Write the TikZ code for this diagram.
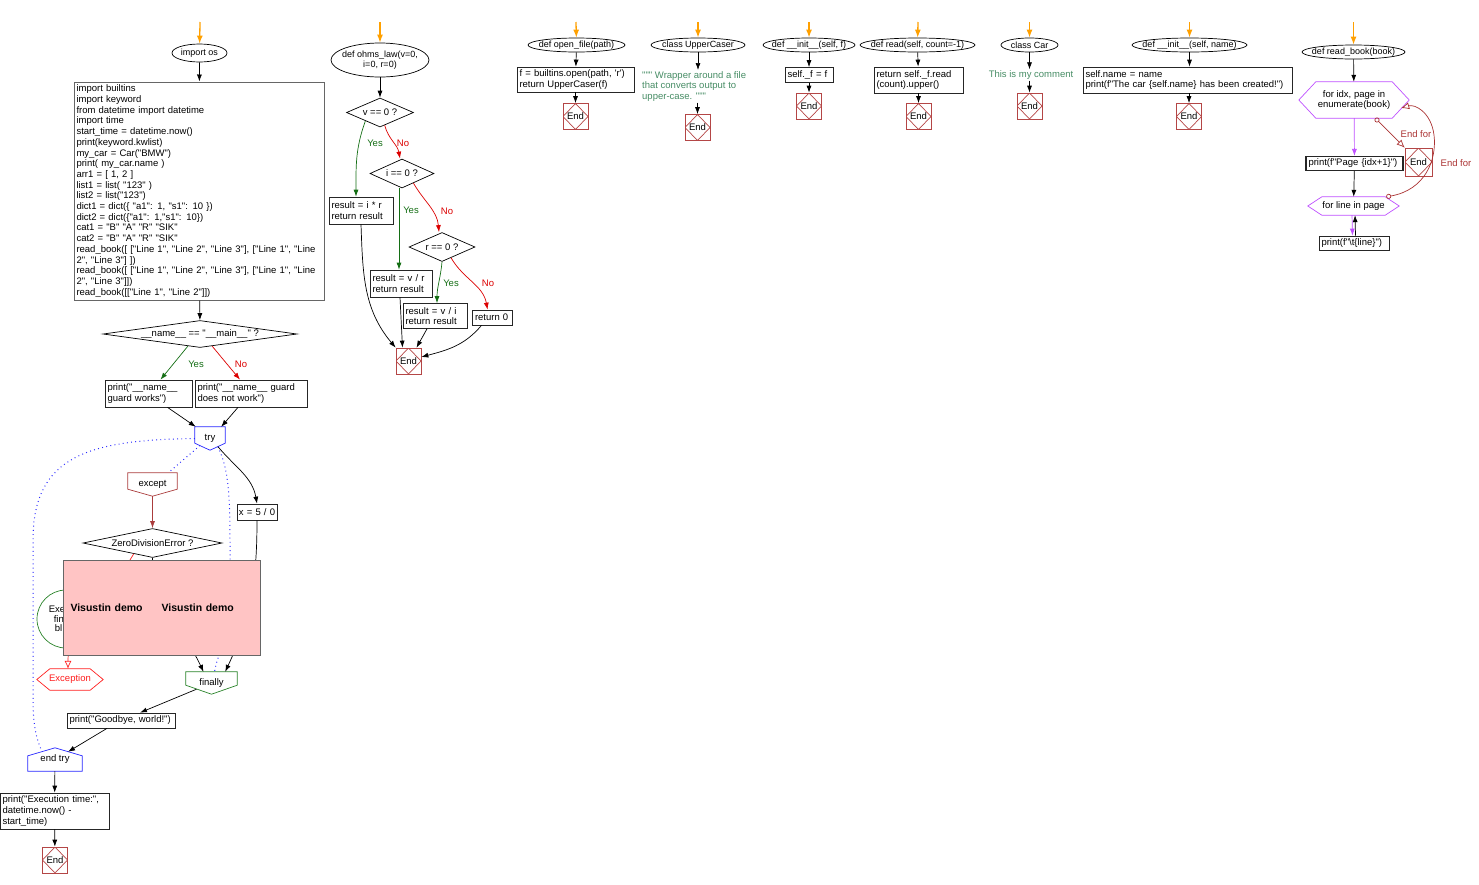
\documentclass[tikz,border=0pt]{standalone}
\usepackage{fontspec}
\newfontfamily\flowfont{Liberation Sans}
\usetikzlibrary{arrows.meta,shapes.geometric}
\definecolor{launchorange}{RGB}{255,160,0}
\definecolor{endred}{RGB}{180,70,70}
\definecolor{yesgreen}{RGB}{20,110,20}
\definecolor{nored}{RGB}{220,0,0}
\definecolor{notegreen}{RGB}{70,140,100}
\definecolor{tryblue}{RGB}{40,40,255}
\definecolor{looppurple}{RGB}{190,80,255}
\definecolor{demopink}{RGB}{255,196,196}
\definecolor{excred}{RGB}{255,30,30}
\definecolor{finalgreen}{RGB}{40,130,40}
\definecolor{exceptred}{RGB}{170,60,60}
\definecolor{exitred}{RGB}{170,50,50}
\newcommand{\pentdown}[3]{\draw[#2,line width=0.7pt] (#1.north west) -- (#1.north east)
  -- ([yshift=#3]#1.south east) -- (#1.south) -- ([yshift=#3]#1.south west) -- cycle;}
\newcommand{\pentup}[3]{\draw[#2,line width=0.7pt] (#1.south west) -- (#1.south east)
  -- ([yshift=-#3]#1.north east) -- (#1.north) -- ([yshift=-#3]#1.north west) -- cycle;}
\newcommand{\hexa}[3]{\draw[#2,line width=0.7pt] (#1.west) -- ([xshift=#3]#1.north west)
  -- ([xshift=-#3]#1.north east) -- (#1.east) -- ([xshift=-#3]#1.south east)
  -- ([xshift=#3]#1.south west) -- cycle;}

\begin{document}
\begin{tikzpicture}[
  x=1pt,y=-1pt,
  every node/.style={font=\flowfont\fontsize{9.5}{10.7}\selectfont,inner sep=0pt},
  flow/.style={draw=black,line width=0.7pt,-{Latex[length=7pt,width=5pt]}},
  launch/.style={draw=launchorange,line width=1.3pt,-{Latex[length=8pt,width=6pt]}},
  yesflow/.style={flow,draw=yesgreen},
  noflow/.style={flow,draw=nored},
  errflow/.style={flow,draw=exceptred},
  loopflow/.style={flow,draw=looppurple},
  tryflow/.style={draw=tryblue,line width=1pt,dash pattern=on 0.9pt off 3.3pt},
  exitflow/.style={draw=exitred,line width=0.7pt,
    {Circle[open,length=5pt,width=5pt]}-{Latex[open,length=8pt,width=7pt]}},
  stmt/.style={draw=black!85,fill=white,line width=0.7pt,align=left,
    inner xsep=2.5pt,inner ysep=1pt},
  codeblock/.style={stmt,draw=black!60,line width=1pt},
  entry/.style={ellipse,draw,fill=white,line width=0.7pt,align=center,
    inner xsep=-40pt,inner ysep=-8pt,font=\flowfont\fontsize{9}{10.5}\selectfont},
  decision/.style={diamond,draw,fill=white,line width=0.7pt,aspect=#1},
  halt/.style={draw=endred,line width=0.7pt,minimum width=25pt,minimum height=26pt,
    path picture={\draw[endred] (path picture bounding box.north)
      -- (path picture bounding box.east) -- (path picture bounding box.south)
      -- (path picture bounding box.west) -- cycle;}},
  slot/.style={rectangle},
  note/.style={text=notegreen,align=left,inner sep=1pt},
  yeslabel/.style={text=yesgreen},
  nolabel/.style={text=nored},
  exitlabel/.style={text=exitred}
]
\useasboundingbox (0,0) rectangle (1479,884);

\coordinate (s1) at (200,22);
\node[entry,minimum width=55pt,minimum height=18pt] (os) at (199.5,53) {import os};
\node[codeblock,text width=245pt,minimum height=218pt] (code) at (199,191) {import builtins\\
import keyword\\
from datetime import datetime\\
import time\\
start\_time = datetime.now()\\
print(keyword.kwlist)\\
my\_car = Car("BMW")\\
print( my\_car.name )\\
arr1 = [ 1, 2 ]\\
list1 = list( "123" )\\
list2 = list("123")\\
dict1 = dict(\{ "a1": 1, "s1": 10 \})\\
dict2 = dict(\{"a1": 1,"s1": 10\})\\
cat1 = "B" "A" "R" "SIK"\\
cat2 = "B" "A" "R" "SIK"\\
read\_book([ ["Line 1", "Line 2", "Line 3"], ["Line 1", "Line\\
2", "Line 3"] ])\\
read\_book([ ["Line 1", "Line 2", "Line 3"], ["Line 1", "Line\\
2", "Line 3"]])\\
read\_book([["Line 1", "Line 2"]])};
\node[decision=7,minimum width=194pt,minimum height=27pt] (namedec) at (200,334) {\_\_name\_\_ == "\_\_main\_\_" ?};
\node[stmt,text width=82pt,minimum height=27pt] (guard1) at (148.5,393.5) {print("\_\_name\_\_\\guard works")};
\node[stmt,text width=107pt,minimum height=27pt] (guard2) at (251,393.5) {print("\_\_name\_\_ guard\\does not work")};
\node[yeslabel] (yes1) at (196,364) {Yes};
\node[nolabel] (no1) at (241,364) {No};
\node[slot,minimum width=30pt,minimum height=23pt] (try) at (210,438.5) {try};
\node[slot,minimum width=49pt,minimum height=23pt] (except) at (152.5,484.5) {except};
\node[decision=4.9,minimum width=139pt,minimum height=29pt] (zde) at (152.5,543) {ZeroDivisionError ?};
\node[stmt,text width=38pt,inner xsep=1pt,align=center,minimum height=16pt] (xdiv) at (257,512) {x = 5 / 0};
\node[draw=finalgreen,fill=white,circle,line width=0.7pt,minimum size=58pt,align=center,
  font=\flowfont\fontsize{9.5}{9.6}\selectfont] (fincirc) at (66,619)
  {Exe\phantom{cute}\\fin\phantom{ally}\\bl\phantom{ock}};
\node[slot,minimum width=66pt,minimum height=21pt,text=excred] (exc) at (70,679.5) {Exception};
\node[slot,minimum width=51pt,minimum height=22pt] (finally) at (211.5,683) {finally};
\node[stmt,text width=103pt,minimum height=15pt] (goodbye) at (121,720.5) {print("Goodbye, world!")};
\node[slot,minimum width=54pt,minimum height=23pt] (endtry) at (55,759.5) {end try};
\node[stmt,text width=104pt,minimum height=36pt] (exectime) at (54.5,811) {print("Execution time:",\\datetime.now() -\\start\_time)};
\node[halt] (end1) at (55,860) {End};
\pentdown{try}{tryblue}{7pt}
\pentdown{except}{exceptred}{7pt}
\pentdown{finally}{finalgreen}{9pt}
\pentup{endtry}{tryblue}{8pt}
\hexa{exc}{excred}{13pt}

\draw[launch] (s1) -- (os);
\draw[flow] (os) -- (code);
\draw[flow] (code) -- (namedec);
\draw[yesflow] (namedec.-135) -- ([xshift=12pt]guard1.north);
\draw[noflow] (namedec.-45) -- ([xshift=-11pt]guard2.north);
\draw[flow] ([xshift=19pt]guard1.south) -- ([xshift=1pt]try.north west);
\draw[flow] ([xshift=-13pt]guard2.south) -- ([xshift=-4pt]try.north east);
\draw[tryflow] (try.west) .. controls (90,440) and (33,455) .. (33,540) -- (33,700)
  .. controls (33,730) and (38,742) .. ([xshift=14pt,yshift=-3.5pt]endtry.north west);
\draw[tryflow] ([xshift=-10pt,yshift=4.7pt]try.south) -- ([xshift=-9pt]except.north east);
\draw[tryflow] ([xshift=8pt,yshift=3.5pt]try.south) .. controls (226,465) and (230,480) .. (230,540)
  -- (230,600) .. controls (230,640) and (218,650) .. ([xshift=3pt]finally.north);
\draw[flow] ([xshift=8pt,yshift=3.5pt]try.south) to[out=-50,in=100] (xdiv.north);
\draw[errflow] (except) -- (zde);
\draw[errflow,-{Latex[open,length=8pt,width=7pt]},draw=excred] (zde.-150) to[out=-120,in=90] ([xshift=-2pt]exc.north);
\draw[flow] (zde.south) to[out=-90,in=115] ([xshift=-8pt]finally.north);
\draw[flow] (xdiv.south) to[out=-90,in=65] ([xshift=-12pt]finally.north east);
\node[draw=black!60,fill=demopink,line width=1pt,text width=182pt,inner xsep=7.5pt,
  minimum height=95pt,align=left,font=\flowfont\bfseries\fontsize{10.5}{12}\selectfont]
  (demo) at (161.5,607.5) {Visustin demo\hspace{19pt}Visustin demo};
\draw[flow] ([xshift=-15pt,yshift=5pt]finally.south) -- ([xshift=19pt]goodbye.north);
\draw[flow] ([xshift=-14pt]goodbye.south) -- ([xshift=13pt,yshift=-4pt]endtry.north);
\draw[flow] (endtry) -- (exectime);
\draw[flow] (exectime) -- (end1);

\coordinate (s2) at (380,22);
\node[entry,minimum width=98pt,minimum height=34pt] (ohms) at (380,60) {def ohms\_law(v=0,\\i=0, r=0)};
\node[decision=2.3,minimum width=67pt,minimum height=29pt] (vdec) at (380,112.5) {v == 0 ?};
\node[decision=2.3,minimum width=64pt,minimum height=29pt] (idec) at (402,173.5) {i == 0 ?};
\node[decision=2.3,minimum width=66pt,minimum height=29pt] (rdec) at (442,247) {r == 0 ?};
\node[stmt,text width=59pt,minimum height=27pt] (res1) at (361,210.5) {result = i * r\\return result};
\node[stmt,text width=57pt,minimum height=27pt] (res2) at (401,283.5) {result = v / r\\return result};
\node[stmt,text width=59pt,minimum height=25pt] (res3) at (435,316) {result = v / i\\return result};
\node[stmt,text width=35pt,minimum height=15pt] (ret0) at (492.5,317.5) {return 0};
\node[halt] (end2) at (408.5,361) {End};
\node[yeslabel] (yes2) at (375,143) {Yes};
\node[nolabel] (no2) at (403,143) {No};
\node[yeslabel] (yes3) at (411,210) {Yes};
\node[nolabel] (no3) at (447,211) {No};
\node[yeslabel] (yes4) at (451,283) {Yes};
\node[nolabel] (no4) at (488,283) {No};
\draw[launch] (s2) -- (ohms);
\draw[flow] (ohms) -- (vdec);
\draw[yesflow] (vdec.-150) to[out=-110,in=90] ([xshift=-5pt]res1.north);
\draw[noflow] (vdec.-70) to[out=-75,in=100] ([xshift=-2pt]idec.north);
\draw[yesflow] ([xshift=-3pt]idec.south) -- ([xshift=-2pt]res2.north);
\draw[noflow] (idec.-40) to[out=-60,in=95] ([xshift=-3pt]rdec.north);
\draw[yesflow] (rdec.south) to[out=-95,in=90] ([xshift=2pt]res3.north);
\draw[noflow] (rdec.-50) to[out=-60,in=100] ([xshift=-5pt]ret0.north);
\draw[flow] (res1.south) to[out=-88,in=130] (end2.north west);
\draw[flow] ([xshift=-1pt]res2.south) -- ([xshift=-6pt]end2.north);
\draw[flow] ([xshift=-8pt]res3.south) -- ([xshift=8pt]end2.north);
\draw[flow] ([xshift=-11pt]ret0.south) to[out=-130,in=15] ([yshift=4pt]end2.east);

\coordinate (s3) at (576,22);
\node[entry,minimum width=97pt,minimum height=14pt] (openf) at (576.5,45) {def open\_file(path)};
\node[stmt,text width=112pt,minimum height=25pt] (openbox) at (575.5,79.5) {f = builtins.open(path, 'r')\\return UpperCaser(f)};
\node[halt] (end3) at (575.5,116.5) {End};
\draw[launch] (s3) -- (openf);
\draw[flow] (openf) -- (openbox);
\draw[flow] (openbox) -- (end3);

\coordinate (s4) at (698,22);
\node[entry,minimum width=94pt,minimum height=14pt] (upper) at (698,45) {class UpperCaser};
\node[note,anchor=north west] (upnote) at (641,70) {""" Wrapper around a file\\that converts output to\\upper-case. """};
\node[halt] (end4) at (697.5,127.5) {End};
\draw[launch] (s4) -- (upper);
\draw[flow] (upper) -- (upper |- upnote.north);
\draw[flow] (upnote.south -| end4) -- (end4);

\coordinate (s5) at (809,22);
\node[entry,minimum width=92pt,minimum height=14pt] (initf) at (809,45) {def \_\_init\_\_(self, f)};
\node[stmt,text width=43pt,minimum height=15pt] (selff) at (809,75) {self.\_f = f};
\node[halt] (end5) at (809,106) {End};
\draw[launch] (s5) -- (initf);
\draw[flow] (initf) -- (selff);
\draw[flow] (selff) -- (end5);

\coordinate (s6) at (918,22);
\node[entry,minimum width=115pt,minimum height=14pt] (readf) at (917.5,45) {def read(self, count=-1)};
\node[stmt,text width=84pt,minimum height=26pt] (readbox) at (918.5,80) {return self.\_f.read\\(count).upper()};
\node[halt] (end6) at (918.5,116.5) {End};
\draw[launch] (s6) -- (readf);
\draw[flow] (readf) -- (readbox);
\draw[flow] (readbox) -- (end6);

\coordinate (s7) at (1029.5,22);
\node[entry,minimum width=57pt,minimum height=14pt] (car) at (1029.5,45) {class Car};
\node[note] (carnote) at (1031,75) {This is my comment};
\node[halt] (end7) at (1029.5,106) {End};
\draw[launch] (s7) -- (car);
\draw[flow] (car) -- (car |- carnote.north);
\draw[flow] (carnote.south -| end7) -- (end7);

\coordinate (s8) at (1189.5,22);
\node[entry,minimum width=115pt,minimum height=14pt] (initn) at (1189.5,45) {def \_\_init\_\_(self, name)};
\node[stmt,text width=204pt,minimum height=26pt] (namebox) at (1187.5,80) {self.name = name\\print(f"The car \{self.name\} has been created!")};
\node[halt] (end8) at (1189,116.5) {End};
\draw[launch] (s8) -- (initn);
\draw[flow] (initn) -- (initn |- namebox.north);
\draw[flow] (namebox.south -| end8) -- (end8);

\coordinate (s9) at (1353.5,22);
\node[entry,minimum width=103pt,minimum height=14pt] (rbook) at (1353.5,52) {def read\_book(book)};
\node[slot,minimum width=110pt,minimum height=36pt,align=center] (forpage) at (1354,100) {for idx, page in\\enumerate(book)};
\node[stmt,text width=92pt,minimum height=14pt,line width=1.1pt] (printpage) at (1354.5,163.5) {print(f"Page \{idx+1\}")};
\node[halt,minimum width=27pt,minimum height=28pt] (endfor) at (1418.5,162) {End};
\node[slot,minimum width=91pt,minimum height=18pt] (forline) at (1353.5,206) {for line in page};
\node[stmt,text width=65pt,minimum height=14pt] (printline) at (1354,243) {print(f"\textbackslash t\{line\}")};
\node[exitlabel] (exit1) at (1416,134) {End for};
\node[exitlabel] (exit2) at (1456,163) {End for};
\hexa{forpage}{looppurple}{17pt}
\hexa{forline}{looppurple}{14pt}
\draw[launch] (s9) -- (rbook);
\draw[flow] (rbook) -- (forpage);
\draw[loopflow] (forpage) -- (printpage);
\draw[flow] (printpage) -- (forline);
\draw[loopflow] ([xshift=-1.5pt]forline.south) -- ([xshift=-1.5pt]printline.north);
\draw[flow] ([xshift=1.5pt]printline.north) -- ([xshift=1.5pt]forline.south);
\draw[exitflow] ([xshift=-34pt]forpage.south east) -- (endfor.north west);
\draw[exitflow] ([xshift=-13pt]forline.north east) .. controls (1425,190) and (1437,160) .. (1434,135)
  .. controls (1431,112) and (1415,104) .. ([xshift=-8pt,yshift=-8pt]forpage.east);
\end{tikzpicture}
\end{document}
